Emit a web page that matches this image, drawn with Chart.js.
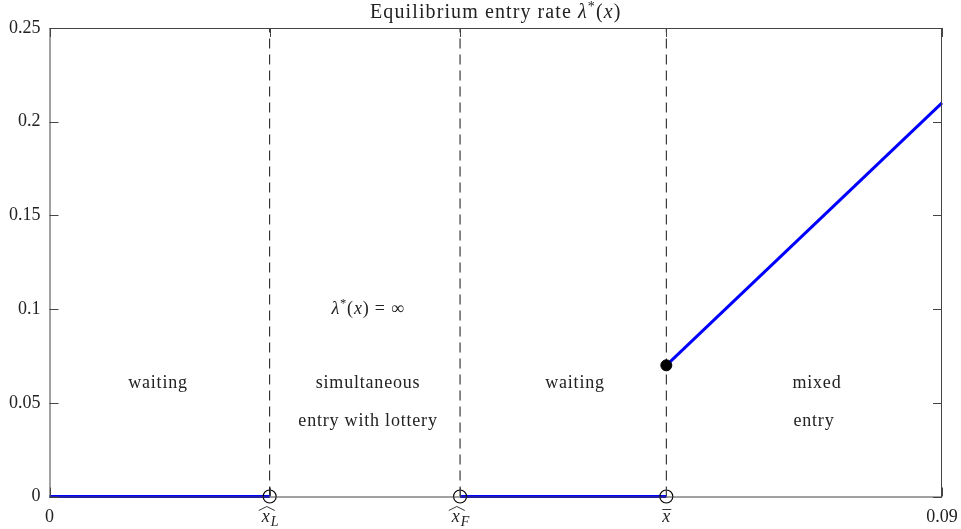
<!DOCTYPE html>
<html lang="en">
<head>
  <meta charset="UTF-8">
  <title>Equilibrium entry rate</title>
  <script src="https://cdn.jsdelivr.net/npm/chart.js"></script>
  <style>
    html, body { margin: 0; padding: 0; background: #fff; overflow: hidden; }
    canvas { display: block; }
  </style>
</head>
<body>
  <canvas id="chart" width="961" height="529"></canvas>

  <script>
    // thresholds on the x axis
    const xL = 0.0222, xF = 0.0414, xBar = 0.0622, xMax = 0.09;
    const thresholds = [xL, xF, xBar];

    // tick labels
    const xTickValues = [0, xL, xF, xBar, xMax];
    const xTickBase   = ['0', 'x', 'x', 'x', '0.09'];
    const xTickAccent = ['', 'hat', 'hat', 'bar', ''];
    const xTickSub    = ['', 'L', 'F', '', ''];
    const yTickValues = [0, 0.05, 0.1, 0.15, 0.2, 0.25];

    // entry rate pieces
    const lowWaitX = [0, xL],     lowWaitY = [0, 0];
    const highWaitX = [xF, xBar], highWaitY = [0, 0];
    const mixedX = [xBar, xMax],  mixedY = [0.07, 0.21];
    const openX = [xL, xF, xBar], openY = [0, 0, 0];
    const jumpX = [xBar],         jumpY = [0.07];

    // region annotations
    const regionText = ['waiting', 'simultaneous', 'entry with lottery', 'waiting', 'mixed', 'entry'];
    const regionX = [0.01094, 0.03212, 0.03212, 0.05299, 0.07739, 0.07709];
    const regionY = [0.0606, 0.0606, 0.0403, 0.0606, 0.0606, 0.0403];

    const FONT = 'Liberation Serif';
    const INK = '#222';
    const SIZE = 18;

    const pts = (xs, ys) => xs.map((x, i) => ({ x: x, y: ys[i] }));

    function drawRuns(ctx, runs, cx, cy, size, spacing) {
      ctx.letterSpacing = (spacing || 0) + 'px';
      let total = 0;
      const widths = runs.map(r => {
        ctx.font = (r.it ? 'italic ' : '') + (r.sup ? size * 0.7 : size) + 'px ' + FONT;
        const w = ctx.measureText(r.t).width;
        total += w;
        return w;
      });
      let x = cx - total / 2;
      ctx.textAlign = 'left';
      ctx.textBaseline = 'middle';
      runs.forEach((r, i) => {
        ctx.font = (r.it ? 'italic ' : '') + (r.sup ? size * 0.7 : size) + 'px ' + FONT;
        ctx.fillText(r.t, x, r.sup ? cy - size * 0.3 : cy);
        x += widths[i];
      });
      ctx.letterSpacing = '0px';
    }

    const decor = {
      id: 'decor',
      afterDraw(chart) {
        const ctx = chart.ctx, a = chart.chartArea;
        const sx = chart.scales.x, sy = chart.scales.y;
        ctx.save();
        ctx.strokeStyle = '#444';
        ctx.lineWidth = 1;
        // box
        ctx.strokeRect(a.left + 0.5, a.top + 0.5, a.right - a.left - 1, a.bottom - a.top);
        // inward ticks
        ctx.beginPath();
        xTickValues.forEach(v => {
          const px = Math.round(sx.getPixelForValue(v)) + 0.5;
          ctx.moveTo(px, a.bottom); ctx.lineTo(px, a.bottom - 9);
          ctx.moveTo(px, a.top); ctx.lineTo(px, a.top + 9);
        });
        yTickValues.forEach(v => {
          const py = Math.round(sy.getPixelForValue(v)) + 0.5;
          ctx.moveTo(a.left, py); ctx.lineTo(a.left + 9, py);
          ctx.moveTo(a.right, py); ctx.lineTo(a.right - 9, py);
        });
        ctx.stroke();

        ctx.fillStyle = INK;
        ctx.strokeStyle = INK;
        // x tick labels
        xTickValues.forEach((v, i) => {
          const px = sx.getPixelForValue(v);
          const ly = a.bottom + 21;
          if (!xTickAccent[i]) {
            drawRuns(ctx, [{ t: xTickBase[i] }], px, ly, SIZE);
            return;
          }
          ctx.font = 'italic ' + SIZE + 'px ' + FONT;
          const w = ctx.measureText('x').width;
          ctx.font = 'italic 14px ' + FONT;
          const ws = xTickSub[i] ? ctx.measureText(xTickSub[i]).width : 0;
          const x0 = px - (w + ws) / 2;
          ctx.textAlign = 'left';
          ctx.textBaseline = 'middle';
          ctx.font = 'italic ' + SIZE + 'px ' + FONT;
          ctx.fillText('x', x0, ly);
          if (xTickSub[i]) {
            ctx.font = 'italic 14px ' + FONT;
            ctx.fillText(xTickSub[i], x0 + w + 1, ly + 5);
          }
          ctx.lineWidth = 0.9;
          ctx.beginPath();
          if (xTickAccent[i] === 'hat') {
            ctx.moveTo(x0 - 3, ly - 7);
            ctx.lineTo(x0 + w / 2 + 1, ly - 11);
            ctx.lineTo(x0 + w + 5, ly - 7);
          } else {
            ctx.moveTo(x0, ly - 8);
            ctx.lineTo(x0 + w + 1, ly - 8);
          }
          ctx.stroke();
        });

        // title
        drawRuns(ctx, [
          { t: 'Equilibrium entry rate ' }, { t: 'λ', it: true }, { t: '*', sup: true },
          { t: '(' }, { t: 'x', it: true }, { t: ')' }
        ], (a.left + a.right) / 2, 13, 20, 1.1);

        // region annotations
        regionText.forEach((t, i) => {
          drawRuns(ctx, [{ t: t }], sx.getPixelForValue(regionX[i]), sy.getPixelForValue(regionY[i]), SIZE, 0.8);
        });
        drawRuns(ctx, [
          { t: 'λ', it: true }, { t: '*', sup: true }, { t: '(' }, { t: 'x', it: true },
          { t: ') = ∞' }
        ], sx.getPixelForValue(0.03212), sy.getPixelForValue(0.1), SIZE, 0.8);
        ctx.restore();
      }
    };

    const lineSet = (xs, ys) => ({
      data: pts(xs, ys), showLine: true, borderColor: '#0000ff', borderWidth: 3,
      pointRadius: 0, order: 2, clip: false
    });

    new Chart(document.getElementById('chart'), {
      type: 'scatter',
      data: {
        datasets: [
          {
            data: pts(openX, openY), pointRadius: 6.5, pointBackgroundColor: 'rgba(0,0,0,0)',
            pointBorderColor: '#000', pointBorderWidth: 1.2, order: 0, clip: false
          },
          {
            data: pts(jumpX, jumpY), pointRadius: 5.5, pointBackgroundColor: '#000',
            pointBorderColor: '#000', order: 0, clip: false
          },
          lineSet(lowWaitX, lowWaitY),
          lineSet(highWaitX, highWaitY),
          lineSet(mixedX, mixedY),
          ...thresholds.map(t => ({
            data: pts([t, t], [0, 0.25]), showLine: true, borderColor: '#111', borderWidth: 1,
            borderDash: [10, 6], pointRadius: 0, order: 3
          }))
        ]
      },
      options: {
        responsive: false,
        animation: false,
        layout: { padding: { top: 28, right: 19, left: 0, bottom: 0 } },
        plugins: { legend: { display: false }, tooltip: { enabled: false } },
        scales: {
          x: {
            type: 'linear', min: 0, max: xMax,
            ticks: { display: false },
            grid: { display: false }, border: { display: false },
            afterFit: s => { s.height = 32.5; }
          },
          y: {
            min: 0, max: 0.25,
            afterBuildTicks: s => { s.ticks = yTickValues.map(v => ({ value: v })); },
            ticks: {
              padding: 1, color: INK, font: { family: FONT, size: SIZE },
              callback: v => String(parseFloat(v.toFixed(2)))
            },
            grid: { display: false }, border: { display: false },
            afterFit: s => { s.width = 49.5; }
          }
        }
      },
      plugins: [decor]
    });
  </script>
</body>
</html>
